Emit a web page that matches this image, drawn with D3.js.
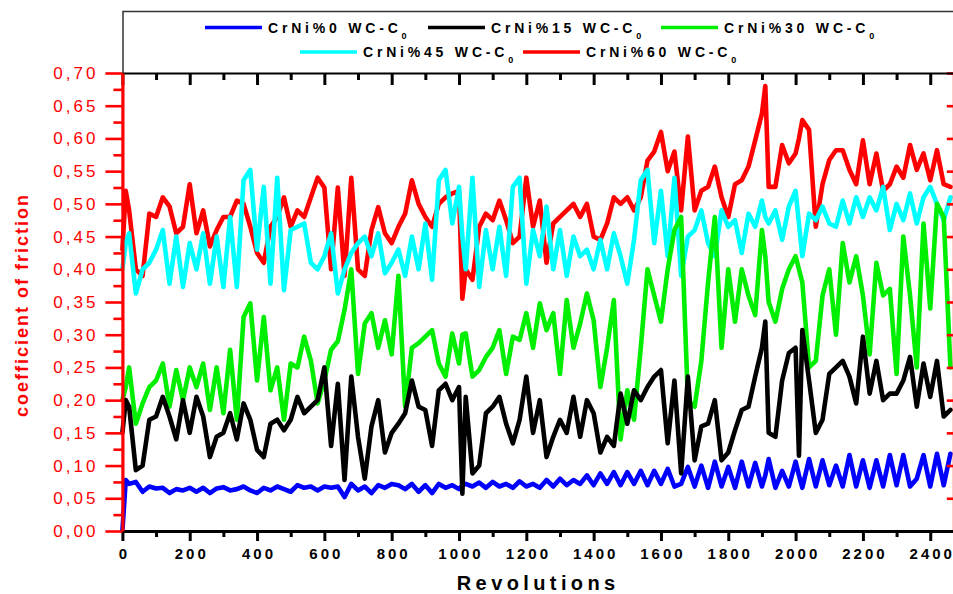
<!DOCTYPE html>
<html>
<head>
<meta charset="utf-8">
<script src="https://cdn.jsdelivr.net/npm/d3@7"></script>
<style>
  html, body { margin: 0; padding: 0; background: #fff; }
  svg { display: block; }
</style>
</head>
<body>
<svg id="chart" width="953" height="594"></svg>
<script>
// ---- data -------------------------------------------------------------
const revs = [
  0, 10, 20, 40, 60, 80, 100, 120, 140, 160, 180,
  200, 220, 240, 260, 280, 300, 320, 340, 360, 380,
  400, 420, 440, 460, 480, 500, 520, 540, 560, 580,
  600, 620, 640, 660, 680, 700, 720, 740, 760, 780,
  800, 820, 840, 860, 880, 900, 920, 940, 960, 980,
  1000, 1010, 1020, 1040, 1060, 1080, 1100, 1120, 1140, 1160, 1180,
  1200, 1220, 1240, 1260, 1280, 1300, 1320, 1340, 1360, 1380,
  1400, 1420, 1440, 1460, 1480, 1500, 1520, 1540, 1560, 1580,
  1600, 1620, 1640, 1660, 1680, 1700, 1720, 1740, 1760, 1780,
  1800, 1820, 1840, 1860, 1880, 1900, 1910, 1920, 1940, 1960, 1980,
  2000, 2010, 2020, 2040, 2060, 2080, 2100, 2120, 2140, 2160, 2180,
  2200, 2220, 2240, 2260, 2280, 2300, 2320, 2340, 2360, 2380,
  2400, 2420, 2440, 2460
];

const crni0 = [
  0.0, 0.078, 0.072, 0.075, 0.06, 0.068, 0.065, 0.066, 0.058, 0.064, 0.062,
  0.066, 0.06, 0.066, 0.058, 0.065, 0.067, 0.062, 0.064, 0.068, 0.062,
  0.058, 0.066, 0.062, 0.068, 0.064, 0.06, 0.07, 0.066, 0.068, 0.062,
  0.068, 0.066, 0.068, 0.052, 0.072, 0.062, 0.068, 0.058, 0.07, 0.066,
  0.072, 0.07, 0.064, 0.072, 0.06, 0.07, 0.058, 0.072, 0.066, 0.07,
  0.064, 0.07, 0.072, 0.068, 0.074, 0.066, 0.075, 0.068, 0.072, 0.066, 0.076,
  0.068, 0.072, 0.066, 0.078, 0.068, 0.08, 0.07, 0.078, 0.072, 0.085,
  0.07, 0.088, 0.072, 0.09, 0.07, 0.09, 0.072, 0.092, 0.07, 0.092,
  0.072, 0.095, 0.068, 0.072, 0.098, 0.068, 0.10, 0.066, 0.106, 0.068,
  0.098, 0.066, 0.106, 0.068, 0.104, 0.068, 0.085, 0.11, 0.066, 0.092, 0.068,
  0.106, 0.085, 0.066, 0.11, 0.068, 0.108, 0.07, 0.10, 0.068, 0.116, 0.068,
  0.108, 0.066, 0.108, 0.068, 0.116, 0.07, 0.116, 0.068, 0.08, 0.116,
  0.068, 0.118, 0.07, 0.118
];

const crni15 = [
  0.15, 0.20, 0.19, 0.093, 0.10, 0.17, 0.175, 0.205, 0.175, 0.14, 0.20,
  0.15, 0.205, 0.175, 0.113, 0.144, 0.15, 0.18, 0.14, 0.195, 0.17,
  0.124, 0.113, 0.164, 0.17, 0.154, 0.17, 0.205, 0.18, 0.19, 0.20,
  0.25, 0.13, 0.225, 0.078, 0.236, 0.144, 0.08, 0.16, 0.20, 0.12,
  0.15, 0.164, 0.18, 0.23, 0.19, 0.185, 0.13, 0.215, 0.225, 0.20,
  0.22, 0.057, 0.205, 0.088, 0.10, 0.18, 0.19, 0.205, 0.164, 0.134, 0.17,
  0.236, 0.15, 0.20, 0.113, 0.144, 0.17, 0.15, 0.205, 0.144, 0.20,
  0.18, 0.12, 0.144, 0.13, 0.21, 0.164, 0.215, 0.20, 0.22, 0.236,
  0.246, 0.134, 0.23, 0.088, 0.236, 0.108, 0.16, 0.164, 0.20, 0.108,
  0.12, 0.154, 0.185, 0.19, 0.236, 0.28, 0.32, 0.15, 0.144, 0.23, 0.272,
  0.28, 0.115, 0.307, 0.23, 0.15, 0.17, 0.24, 0.25, 0.26, 0.236, 0.195,
  0.297, 0.21, 0.26, 0.20, 0.21, 0.21, 0.23, 0.266, 0.19, 0.256,
  0.205, 0.26, 0.175, 0.185
];

const crni30 = [
  0.20, 0.22, 0.25, 0.164, 0.195, 0.22, 0.23, 0.256, 0.19, 0.246, 0.20,
  0.25, 0.22, 0.256, 0.185, 0.25, 0.18, 0.277, 0.17, 0.327, 0.348,
  0.23, 0.327, 0.215, 0.25, 0.17, 0.256, 0.25, 0.297, 0.26, 0.195,
  0.23, 0.277, 0.29, 0.338, 0.40, 0.24, 0.317, 0.333, 0.28, 0.322,
  0.27, 0.39, 0.19, 0.28, 0.287, 0.297, 0.307, 0.256, 0.236, 0.302,
  0.256, 0.30, 0.302, 0.236, 0.246, 0.266, 0.28, 0.307, 0.24, 0.297, 0.292,
  0.333, 0.28, 0.348, 0.307, 0.333, 0.24, 0.353, 0.28, 0.317, 0.363,
  0.322, 0.22, 0.28, 0.353, 0.14, 0.215, 0.17, 0.28, 0.40, 0.36,
  0.32, 0.40, 0.46, 0.48, 0.20, 0.19, 0.26, 0.38, 0.48, 0.28,
  0.40, 0.32, 0.40, 0.36, 0.33, 0.46, 0.42, 0.35, 0.32, 0.37, 0.40,
  0.42, 0.40, 0.38, 0.25, 0.26, 0.36, 0.40, 0.30, 0.44, 0.38, 0.42,
  0.36, 0.27, 0.41, 0.36, 0.37, 0.24, 0.45, 0.36, 0.25, 0.47,
  0.34, 0.50, 0.48, 0.25
];

const crni45 = [
  0.40, 0.44, 0.455, 0.363, 0.40, 0.41, 0.43, 0.46, 0.378, 0.45, 0.373,
  0.44, 0.40, 0.455, 0.378, 0.45, 0.373, 0.48, 0.373, 0.536, 0.552,
  0.43, 0.526, 0.378, 0.54, 0.368, 0.46, 0.465, 0.47, 0.41, 0.40,
  0.42, 0.455, 0.363, 0.40, 0.425, 0.44, 0.45, 0.42, 0.455, 0.394,
  0.41, 0.43, 0.39, 0.45, 0.40, 0.47, 0.384, 0.536, 0.552, 0.47,
  0.526, 0.45, 0.40, 0.54, 0.373, 0.46, 0.40, 0.465, 0.39, 0.526, 0.54,
  0.378, 0.46, 0.42, 0.496, 0.40, 0.46, 0.39, 0.45, 0.42, 0.43,
  0.40, 0.445, 0.40, 0.455, 0.42, 0.378, 0.445, 0.536, 0.552, 0.44,
  0.52, 0.42, 0.54, 0.39, 0.45, 0.46, 0.49, 0.44, 0.42, 0.49,
  0.465, 0.475, 0.425, 0.485, 0.465, 0.505, 0.48, 0.47, 0.49, 0.445, 0.496,
  0.52, 0.47, 0.42, 0.485, 0.475, 0.496, 0.47, 0.465, 0.505, 0.47, 0.51,
  0.48, 0.51, 0.49, 0.526, 0.46, 0.50, 0.475, 0.516, 0.47, 0.51,
  0.526, 0.50, 0.475, 0.51
];

const crni60 = [
  0.43, 0.52, 0.49, 0.40, 0.39, 0.485, 0.48, 0.51, 0.496, 0.455, 0.465,
  0.53, 0.455, 0.49, 0.435, 0.46, 0.48, 0.48, 0.505, 0.50, 0.465,
  0.425, 0.41, 0.465, 0.48, 0.51, 0.465, 0.49, 0.48, 0.51, 0.54,
  0.525, 0.40, 0.525, 0.39, 0.54, 0.40, 0.39, 0.46, 0.495, 0.455,
  0.44, 0.465, 0.485, 0.536, 0.50, 0.48, 0.465, 0.50, 0.51, 0.516,
  0.52, 0.355, 0.40, 0.384, 0.465, 0.485, 0.475, 0.505, 0.475, 0.44, 0.45,
  0.54, 0.465, 0.505, 0.41, 0.47, 0.48, 0.49, 0.50, 0.48, 0.50,
  0.45, 0.445, 0.47, 0.51, 0.50, 0.51, 0.49, 0.51, 0.566, 0.58,
  0.61, 0.55, 0.58, 0.49, 0.603, 0.49, 0.52, 0.526, 0.557, 0.51,
  0.48, 0.53, 0.536, 0.557, 0.597, 0.638, 0.68, 0.526, 0.526, 0.59, 0.562,
  0.577, 0.60, 0.628, 0.613, 0.465, 0.53, 0.567, 0.582, 0.582, 0.552, 0.53,
  0.597, 0.53, 0.577, 0.52, 0.53, 0.557, 0.54, 0.59, 0.552, 0.577,
  0.536, 0.582, 0.53, 0.526
];

const seriesNames = ["CrNi%0 WC-C", "CrNi%15 WC-C", "CrNi%30 WC-C", "CrNi%45 WC-C", "CrNi%60 WC-C"];
const seriesSub = ["0", "0", "0", "0", "0"];
const seriesColors = ["#0000ff", "#000000", "#00ee00", "#00ffff", "#ff0000"];
const seriesValues = [crni0, crni15, crni30, crni45, crni60];

const yMajor = [0, 0.05, 0.10, 0.15, 0.20, 0.25, 0.30, 0.35, 0.40, 0.45, 0.50, 0.55, 0.60, 0.65, 0.70];
const yTickLabels = ["0,00", "0,05", "0,10", "0,15", "0,20", "0,25", "0,30", "0,35", "0,40", "0,45", "0,50", "0,55", "0,60", "0,65", "0,70"];
const xMajor = [0, 200, 400, 600, 800, 1000, 1200, 1400, 1600, 1800, 2000, 2200, 2400];
const xTickLabels = ["0", "200", "400", "600", "800", "1000", "1200", "1400", "1600", "1800", "2000", "2200", "2400"];
const xMinor = [100, 300, 500, 700, 900, 1100, 1300, 1500, 1700, 1900, 2100, 2300];

const xTitle = "Revolutions";
const yTitle = "coefficient of friction";

// ---- layout -----------------------------------------------------------
const W = 953, H = 594;
const plot = { left: 122.4, right: 953.8, top: 73, bottom: 531 };
const FONT = "'Liberation Sans', Arial, Helvetica, sans-serif";

const svg = d3.select("#chart");

const x = d3.scaleLinear().domain([0, 2470]).range([plot.left, plot.right]);
const y = d3.scaleLinear().domain([0, 0.70]).range([plot.bottom, plot.top]);

// Spaced-out text without trailing space after the last glyph:
// all characters but the last get the letter spacing.
function spacedText(sel, str, spacing) {
  sel.text(null);
  if (str.length > 1) {
    sel.append("tspan").attr("letter-spacing", spacing + "px").text(str.slice(0, -1));
  }
  sel.append("tspan").attr("letter-spacing", "0px").text(str.slice(-1));
}

// ---- legend frame -------------------------------------------------------
svg.append("path")
  .attr("d", `M${plot.left + 0.6},${plot.top} V11.5 H${W + 5}`)
  .attr("fill", "none")
  .attr("stroke", "#333")
  .attr("stroke-width", 1.5);

// ---- curves -------------------------------------------------------------
const line = d3.line()
  .x(d => x(d[0]))
  .y(d => y(d[1]));

const drawOrder = [0, 4, 3, 2, 1];
const curves = svg.append("g").attr("class", "curves");
drawOrder.forEach(si => {
  const pts = revs.map((r, i) => [r, seriesValues[si][i]]);
  curves.append("path")
    .datum(pts)
    .attr("d", line)
    .attr("fill", "none")
    .attr("stroke", seriesColors[si])
    .attr("stroke-width", 4.6)
    .attr("stroke-linejoin", "round")
    .attr("stroke-linecap", "round");
});

// ---- axes ---------------------------------------------------------------
function styleAxis(g, color, domainWidth, tickWidth) {
  g.select(".domain").attr("stroke", color).attr("stroke-width", domainWidth);
  g.selectAll(".tick line").attr("stroke", color).attr("stroke-width", tickWidth);
}

const yMinor = d3.pairs(yMajor, (a, b) => (a + b) / 2);

// left (red)
const gLeftMinor = svg.append("g").attr("transform", `translate(${plot.left},0)`)
  .call(d3.axisLeft(y).tickValues(yMinor).tickSize(9).tickSizeOuter(0).tickFormat(""));
gLeftMinor.select(".domain").remove();
styleAxis(gLeftMinor, "#ff0000", 3, 2.6);

const gLeft = svg.append("g").attr("transform", `translate(${plot.left},0)`)
  .call(d3.axisLeft(y).tickValues(yMajor).tickSize(17).tickSizeOuter(0).tickPadding(10)
    .tickFormat((d, i) => yTickLabels[i]));
styleAxis(gLeft, "#ff0000", 3.2, 2.6);
gLeft.selectAll(".tick text")
  .attr("fill", "#ff0000")
  .attr("font-family", FONT)
  .attr("font-size", 17)
  .each(function (d, i) { spacedText(d3.select(this), yTickLabels[i], 3); });

// right (red, inward ticks)
const gRight = svg.append("g").attr("transform", `translate(${plot.right},0)`)
  .call(d3.axisRight(y).tickValues(yMajor).tickSize(-7).tickSizeOuter(0).tickFormat(""));
styleAxis(gRight, "#ff0000", 3, 2.6);

// bottom (black)
const gBottomMinor = svg.append("g").attr("transform", `translate(0,${plot.bottom})`)
  .call(d3.axisBottom(x).tickValues(xMinor).tickSize(6).tickSizeOuter(0).tickFormat(""));
gBottomMinor.select(".domain").remove();
styleAxis(gBottomMinor, "#000", 3, 3);

const gBottom = svg.append("g").attr("transform", `translate(0,${plot.bottom})`)
  .call(d3.axisBottom(x).tickValues(xMajor).tickSize(10).tickSizeOuter(0).tickPadding(7)
    .tickFormat((d, i) => xTickLabels[i]));
styleAxis(gBottom, "#000", 3, 3);
gBottom.selectAll(".tick text")
  .attr("fill", "#000")
  .attr("font-family", FONT)
  .attr("font-size", 15)
  .attr("font-weight", "bold")
  .each(function (d, i) { spacedText(d3.select(this), xTickLabels[i], 3); });

// top (black, inward ticks)
const gTopMinor = svg.append("g").attr("transform", `translate(0,${plot.top})`)
  .call(d3.axisTop(x).tickValues(xMinor).tickSize(-7).tickSizeOuter(0).tickFormat(""));
gTopMinor.select(".domain").remove();
styleAxis(gTopMinor, "#000", 2, 3);

const gTop = svg.append("g").attr("transform", `translate(0,${plot.top})`)
  .call(d3.axisTop(x).tickValues(xMajor).tickSize(-12).tickSizeOuter(0).tickFormat(""));
styleAxis(gTop, "#000", 2, 3);

// keep the red left spine above the top axis corner
gLeft.raise();

// ---- titles -------------------------------------------------------------
const xt = svg.append("text")
  .attr("x", 536)
  .attr("y", 590)
  .attr("text-anchor", "middle")
  .attr("font-family", FONT)
  .attr("font-size", 20)
  .attr("font-weight", "bold")
  .attr("fill", "#000");
spacedText(xt, xTitle, 4.4);

const yt = svg.append("text")
  .attr("transform", "translate(28,306) rotate(-90)")
  .attr("text-anchor", "middle")
  .attr("font-family", FONT)
  .attr("font-size", 18)
  .attr("font-weight", "bold")
  .attr("fill", "#ff0000");
spacedText(yt, yTitle, 2);

// ---- legend -------------------------------------------------------------
const legendSlots = [[205, 27.5], [428, 27.5], [661, 27.5], [300, 52], [523, 52]];
const legend = svg.append("g").attr("class", "legend");
seriesNames.forEach((name, i) => {
  const [lx, ly] = legendSlots[i];
  legend.append("line")
    .attr("x1", lx).attr("x2", lx + 57)
    .attr("y1", ly).attr("y2", ly)
    .attr("stroke", seriesColors[i])
    .attr("stroke-width", 3.5);
  const t = legend.append("text")
    .attr("x", lx + 63)
    .attr("y", ly + 5.2)
    .attr("font-family", FONT)
    .attr("font-size", 14)
    .attr("font-weight", "bold")
    .attr("fill", "#000");
  t.append("tspan").attr("letter-spacing", "3.8px").text(name);
  t.append("tspan")
    .attr("font-size", 9)
    .attr("dy", 6)
    .attr("letter-spacing", "0px")
    .text(seriesSub[i]);
});
</script>
</body>
</html>
